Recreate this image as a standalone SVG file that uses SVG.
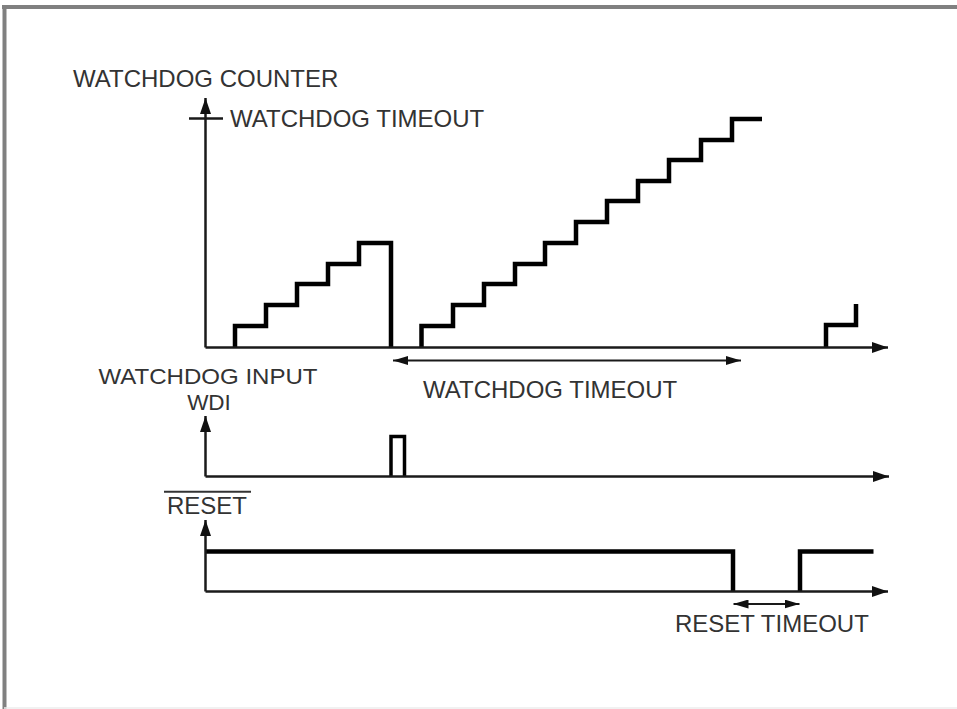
<svg xmlns="http://www.w3.org/2000/svg" width="957" height="709" viewBox="0 0 957 709">
  <style>
    .lbl { font-family: "Liberation Sans", Arial, sans-serif; font-size: 24px; fill: #333333; }
    .sm { font-size: 22.5px; }
    .axis { fill: none; stroke: #1a1a1a; stroke-width: 2.5; }
    .sig { fill: none; stroke: #000000; stroke-width: 4.5; stroke-linejoin: miter; stroke-linecap: butt; }
    .dim { fill: none; stroke: #1a1a1a; stroke-width: 2; }
    .frame { stroke: #808080; stroke-width: 4; }
  </style>
  <defs>
    <marker id="ah" markerUnits="userSpaceOnUse" markerWidth="16" markerHeight="11" refX="16" refY="5.5" orient="auto">
      <path d="M0,0 L16,5.5 L0,11 Z" fill="#111111"/>
    </marker>
    <marker id="dh" markerUnits="userSpaceOnUse" markerWidth="15" markerHeight="9" refX="15" refY="4.5" orient="auto-start-reverse">
      <path d="M0,0 L15,4.5 L0,9 Z" fill="#111111"/>
    </marker>
  </defs>
  <rect x="0" y="0" width="957" height="709" fill="#ffffff"/>
  <g id="frame">
    <line class="frame" x1="2" y1="7" x2="957" y2="7"/>
    <line class="frame" x1="4.5" y1="5" x2="4.5" y2="709"/>
    <line x1="4" y1="708" x2="957" y2="708" stroke="#ececec" stroke-width="1.5"/>
  </g>

  <g id="counter-chart">
    <text class="lbl" x="73" y="87">WATCHDOG COUNTER</text>
    <line class="axis" x1="189" y1="118.5" x2="223" y2="118.5"/>
    <text class="lbl" x="230" y="127">WATCHDOG TIMEOUT</text>
    <path id="counter-steps-1" class="sig" d="M235,347.5 V326 H266 V305 H297 V284 H328 V264 H359 V243 H391 V347.5"/>
    <path id="counter-steps-2" class="sig" d="M421.5,347.5 V326 H453 V305 H484 V284 H515 V264 H545 V243 H576 V222 H607 V201 H638 V181 H669 V160 H701 V140 H732 V119 H762"/>
    <path id="counter-steps-3" class="sig" d="M826,347.5 V325 H856 V304"/>
    <text class="lbl" x="423" y="397.5">WATCHDOG TIMEOUT</text>
  </g>

  <g id="wdi-chart">
    <text class="lbl sm" x="98.5" y="383.5" textLength="219" lengthAdjust="spacingAndGlyphs">WATCHDOG INPUT</text>
    <text class="lbl sm" x="209" y="409.5" text-anchor="middle">WDI</text>
    <path id="wdi-pulse" class="sig" style="stroke-width:3.5" d="M391,476.5 V436.5 H404.5 V476.5"/>
  </g>

  <g id="reset-chart">
    <text class="lbl" x="167" y="514">RESET</text>
    <line x1="164" y1="491.7" x2="251" y2="491.7" stroke="#333333" stroke-width="2"/>
    <path id="reset-high" class="sig" d="M205.5,551.5 H733 V591"/>
    <path id="reset-rise" class="sig" d="M800,591 V551.5 H873.5"/>
    <text class="lbl" x="675" y="631.5">RESET TIMEOUT</text>
  </g>

  <g id="connectors">
    <path class="axis" marker-end="url(#ah)" d="M205.5,347.5 V98"/>
    <path class="axis" marker-end="url(#ah)" d="M205.5,347.5 H888"/>
    <path class="axis" marker-end="url(#ah)" d="M205.5,476.5 V416"/>
    <path class="axis" marker-end="url(#ah)" d="M205.5,476.5 H889"/>
    <path class="axis" marker-end="url(#ah)" d="M205.5,591.5 V520"/>
    <path class="axis" marker-end="url(#ah)" d="M205.5,591.5 H888"/>
    <path class="dim" marker-start="url(#dh)" marker-end="url(#dh)" d="M393,360.5 H741"/>
    <path class="dim" marker-start="url(#dh)" marker-end="url(#dh)" d="M733.5,604 H799.5"/>
  </g>
</svg>
